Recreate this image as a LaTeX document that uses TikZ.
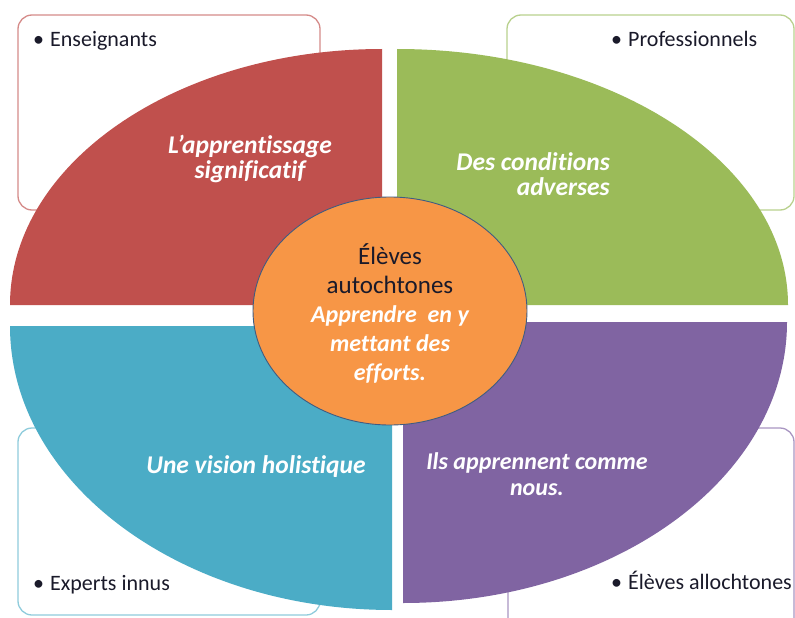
\documentclass[tikz,border=0pt]{standalone}
\usepackage{fontspec}
\setmainfont{Carlito}[Ligatures=NoCommon]
\usetikzlibrary{shapes.geometric}
\definecolor{qred}{HTML}{C0504D}
\definecolor{qgreen}{HTML}{9BBB59}
\definecolor{qblue}{HTML}{4BACC6}
\definecolor{qpurple}{HTML}{8064A2}
\definecolor{qorange}{HTML}{F79646}
\definecolor{bred}{HTML}{D58B89}
\definecolor{bgreen}{HTML}{B9D18E}
\definecolor{bblue}{HTML}{8FCCDC}
\definecolor{bpurple}{HTML}{A996C2}
\definecolor{rimblue}{HTML}{3F5C82}
\definecolor{darktext}{HTML}{1A1A2A}
\begin{document}
\begin{tikzpicture}[x=1pt,y=-1pt,
  cornerbox/.style={draw, line width=1.3pt, rounded corners=14pt, fill=white},
  boxtext/.style={anchor=base west, inner sep=0pt, text=darktext, font=\fontsize{22}{24}\selectfont},
  quadtext/.style={inner sep=0pt, text=white, font=\fontsize{25.5}{25.5}\selectfont\bfseries\itshape}]
\useasboundingbox (0,0) rectangle (795,618);
\fill[white] (0,0) rectangle (795,618);
% corner boxes
\draw[cornerbox, draw=bred] (18,15) rectangle (320,210);
\draw[cornerbox, draw=bgreen] (507,15) rectangle (794,210);
\draw[cornerbox, draw=bblue] (18,428) rectangle (320,615);
\draw[cornerbox, draw=bpurple] (508,428) rectangle (794,640);
\node[boxtext] (t1) at (33,47) {\makebox[17pt][l]{\textbullet}Enseignants};
\node[boxtext] (t2) at (611,47) {\makebox[17pt][l]{\textbullet}Professionnels};
\node[boxtext] (t3) at (33,590) {\makebox[17pt][l]{\textbullet}Experts innus};
\node[boxtext] (t4) at (611,589) {\makebox[17pt][l]{\textbullet}Élèves allochtones};
% quadrants
\fill[qred] (382,305) -- (10,305) arc[start angle=180, end angle=270, x radius=372, y radius=256] -- cycle;
\fill[qgreen] (397,305) -- (397,49) arc[start angle=270, end angle=360, x radius=391, y radius=256] -- cycle;
\fill[qblue] (392,326) -- (10,326) arc[start angle=180, end angle=90, x radius=382, y radius=284] -- cycle;
\fill[qpurple] (403,322) -- (787,322) arc[start angle=0, end angle=90, x radius=384, y radius=281] -- cycle;
\node[quadtext, align=center] (q1) at (250,159) {L’apprentissage\\significatif};
\node[quadtext, align=right, anchor=east] (q2) at (610,174) {Des conditions\\adverses};
\node[quadtext, anchor=base] (q3) at (256,473) {Une vision holistique};
\node[quadtext, align=center, font=\fontsize{24}{25.5}\selectfont\bfseries\itshape] (q4) at (537,474) {Ils apprennent comme\\nous.};
% centre
\node[ellipse, draw=rimblue, line width=0.9pt, fill=qorange, minimum width=274pt, minimum height=228pt, inner sep=0pt] (c) at (390,311) {};
\node[align=center, inner sep=0pt, font=\fontsize{25}{29}\selectfont] (ct) at (390,313)
  {\color{darktext}Élèves\\\color{darktext}autochtones\\\color{white}\fontsize{24}{29}\selectfont\bfseries\itshape Apprendre\ \ en y\\\color{white}\fontsize{24}{29}\selectfont\bfseries\itshape mettant des\\\color{white}\fontsize{24}{29}\selectfont\bfseries\itshape efforts.};
\end{tikzpicture}
\end{document}
